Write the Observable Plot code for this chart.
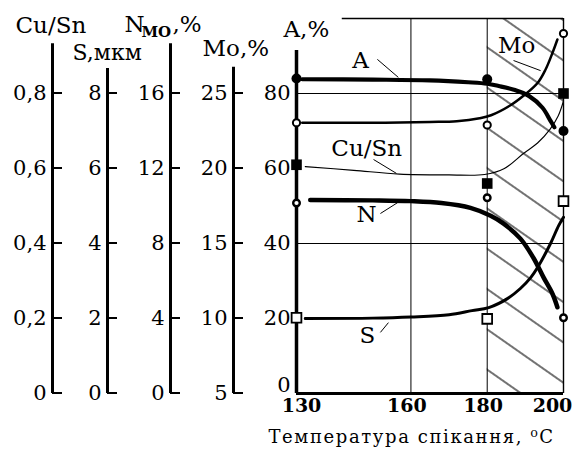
<!DOCTYPE html>
<html><head><meta charset="utf-8">
<script src="https://cdn.jsdelivr.net/npm/d3@7"></script>
<script src="https://cdn.jsdelivr.net/npm/@observablehq/plot@0.6"></script>
<style>body{margin:0;background:#fff}</style>
</head><body><div id="chart"></div>
<script>
// ---- data ----
const markTemps = [130, 180, 200];
const markA    = [84, 83.8, 70];          // A, %
const markMo   = [23.05, 22.9, 29.0];     // Mo, %
const markCuSn = [0.61, 0.56, 0.80];      // Cu/Sn
const markN    = [10.16, 10.44, 4.04];    // N_MO, %
const markS    = [2.02, 1.99, 5.13];      // S, мкм

const aTemps = [131.5, 150, 165, 175, 180, 183, 187, 191, 194.5, 196.6, 197.6];
const aVals  = [83.8, 83.7, 83.5, 83.0, 82.6, 82.0, 81.0, 79.3, 76.2, 72.7, 71.0];
const moTemps = [131.5, 150, 165, 172, 178, 181, 186, 189.5, 193.2, 195.3, 197.1, 198.4];
const moVals  = [23.05, 23.05, 23.1, 23.15, 23.35, 23.55, 24.2, 24.85, 25.7, 26.6, 27.7, 28.6];
const cuTemps = [132.3, 145, 157, 170, 179.3, 184.5, 189.5, 193.2, 196.5, 198.6, 200];
const cuVals  = [0.605, 0.595, 0.585, 0.583, 0.584, 0.6, 0.64, 0.668, 0.705, 0.74, 0.78];
const nTemps = [133.6, 150, 160, 168, 175.6, 180.9, 184.3, 188.7, 192.1, 194.8, 197.1, 198.4];
const nVals  = [10.32, 10.3, 10.26, 10.16, 9.9, 9.48, 9.06, 8.26, 7.24, 6.18, 5.32, 4.6];
const sTemps = [132.3, 150, 160, 170, 176, 180.4, 185.3, 188.7, 191.4, 193.2, 196.6, 198.7, 200];
const sVals  = [2.0, 2.01, 2.04, 2.1, 2.21, 2.29, 2.53, 2.8, 3.09, 3.36, 4.0, 4.47, 4.7];

// tick values for each axis
const xTicks = [130, 160, 180, 200];
const cuTicks = [0, 0.2, 0.4, 0.6, 0.8];
const sTicks = [0, 2, 4, 6, 8];
const nTicks = [0, 4, 8, 12, 16];
const moTicks = [5, 10, 15, 20, 25];
const aTicks = [0, 20, 40, 60, 80];
const gridA = [40, 80];
const gridT = [160, 180];
const hatchZone = [180, 200];

// conversions of each quantity onto the shared vertical scale (A, %)
const toA = {A: v => v, Mo: v => (v - 5) * 4, Cu: v => v * 100, N: v => v * 5, S: v => v * 10};
const fmtComma = v => v === 0 ? "0" : String(v).replace(".", ",");

const pts = (ts, vs, f) => ts.map((t, i) => ({t, v: f(vs[i])}));

const font = "DejaVu Serif";
const FX = 296, FY = 18; // frame top-left in px (layout)
const W = 572, ML = 296, MR = 9;
const ppu = (W - ML - MR) / 70;        // px per x unit
const at = px => 130 + px / ppu;       // px offset from the frame's left edge -> x units

function title(txt, px, base, size, weight = "normal") {
  return Plot.text([txt], {text: d => d, frameAnchor: "top-left", textAnchor: "start", lineAnchor: "bottom",
    dx: px - FX, dy: base - FY, fontSize: size, fontWeight: weight, fill: "black"});
}

const sideAxes = [
  {ticks: cuTicks, conv: toA.Cu, fmt: d => fmtComma(Math.round(d * 10) / 1000), dx: -244, top: 93.3},
  {ticks: sTicks, conv: toA.S, fmt: d => String(Math.round(d / 10)), dx: -189, top: 86.7},
  {ticks: nTicks, conv: toA.N, fmt: d => String(Math.round(d / 5)), dx: -126, top: 93.3},
  {ticks: moTicks, conv: toA.Mo, fmt: d => String(Math.round(d / 4 + 5)), dx: -63, top: 87}
];

function sideAxis({ticks, conv, fmt, dx, top}) {
  const ys = ticks.map(conv);
  return [
    Plot.ruleX([at(dx)], {y1: 0, y2: top, strokeWidth: 3}),
    Plot.axisY(ys, {anchor: "left", dx, tickSize: 0, tickPadding: 6,
      tickFormat: d => fmt(d), fontSize: 21, label: null})
  ];
}

const curveLabels = [
  {txt: "A", t: 146.8, v: 88.7, lt1: 151.2, lv1: 89.1, lt2: 156.7, lv2: 84.3},
  {txt: "Mo", t: 187.7, v: 92.8, lt1: 186.9, lv1: 88.8, lt2: 194, lv2: 86.1},
  {txt: "Cu/Sn", t: 148.4, v: 65.3, lt1: 150.2, lv1: 62.4, lt2: 156.2, lv2: 58.7},
  {txt: "N", t: 148.4, v: 47.7, lt1: 152, lv1: 48, lt2: 156.5, lv2: 50.9},
  {txt: "S", t: 148.6, v: 15.5, lt1: 152, lv1: 16.3, lt2: 154.1, lv2: 18.9}
];

const chart = Plot.plot({
  width: W, height: 454,
  marginLeft: ML, marginRight: MR, marginTop: 18, marginBottom: 61,
  style: {fontFamily: font, background: "white", color: "black"},
  x: {domain: [130, 200], axis: null},
  y: {domain: [0, 100], axis: null},
  marks: [
    Plot.rect([hatchZone], {x1: d => d[0], x2: d => d[1], y1: 0, y2: 100, fill: "url(#hatch)"}),
    Plot.ruleY(gridA, {x1: 130, x2: 200, strokeWidth: 1}),
    Plot.ruleX(gridT, {y1: 0, y2: 100, strokeWidth: 1}),
    Plot.ruleX([200], {y1: 0, y2: 100, strokeWidth: 1.4}),
    Plot.ruleY([100], {x1: 142, x2: 200, strokeWidth: 1.4}),
    Plot.ruleY([0], {x1: 130, x2: 200, strokeWidth: 3}),

    Plot.line(pts(cuTemps, cuVals, toA.Cu), {x: "t", y: "v", curve: "catmull-rom", strokeWidth: 1.1}),
    Plot.line(pts(moTemps, moVals, toA.Mo), {x: "t", y: "v", curve: "catmull-rom", strokeWidth: 2.5}),
    Plot.line(pts(aTemps, aVals, toA.A), {x: "t", y: "v", curve: "catmull-rom", strokeWidth: 4.2}),
    Plot.line(pts(nTemps, nVals, toA.N), {x: "t", y: "v", curve: "catmull-rom", strokeWidth: 4.5}),
    Plot.line(pts(sTemps, sVals, toA.S), {x: "t", y: "v", curve: "catmull-rom", strokeWidth: 3}),

    ...sideAxes.flatMap(sideAxis),
    Plot.ruleX([130], {y1: 0, y2: 91.5, strokeWidth: 3.5}),
    Plot.axisY(aTicks.slice(1), {anchor: "left", tickSize: 0, tickPadding: 6, fontSize: 21, label: null}),
    Plot.axisY(aTicks.slice(0, 1), {anchor: "left", tickSize: 0, tickPadding: 6, dy: -8, fontSize: 21, label: null}),
    Plot.axisX(xTicks.slice(0, 1), {anchor: "bottom", tickSize: 0, tickPadding: 5, dx: 5, fontSize: 19, fontWeight: "bold", label: null}),
    Plot.axisX(xTicks.slice(1, 3), {anchor: "bottom", tickSize: 0, tickPadding: 5, dx: -4, fontSize: 19, fontWeight: "bold", label: null}),
    Plot.axisX(xTicks.slice(3), {anchor: "bottom", tickSize: 0, tickPadding: 5, dx: -11, fontSize: 19, fontWeight: "bold", label: null}),

    Plot.dot(pts(markTemps, markA, toA.A), {x: "t", y: "v", r: 5, fill: "black"}),
    Plot.dot(pts(markTemps, markMo, toA.Mo), {x: "t", y: "v", r: 3.6, fill: "white", stroke: "black", strokeWidth: 2}),
    Plot.dot(pts(markTemps, markCuSn, toA.Cu), {x: "t", y: "v", symbol: "square", r: 6, fill: "black"}),
    Plot.dot(pts(markTemps, markN, toA.N), {x: "t", y: "v", r: 3.3, fill: "white", stroke: "black", strokeWidth: 2.4}),
    Plot.dot(pts(markTemps, markS, toA.S), {x: "t", y: "v", symbol: "square", r: 5.5, fill: "white", stroke: "black", strokeWidth: 1.8}),

    Plot.link(curveLabels, {x1: "lt1", y1: "lv1", x2: "lt2", y2: "lv2", strokeWidth: 1}),
    Plot.text(curveLabels, {x: "t", y: "v", text: "txt", fontSize: 23, fill: "black"}),

    title("Cu/Sn", 15, 32, 23),
    title("S,мкм", 72, 59, 22),
    title("N", 124, 31, 23),
    title("MO", 141, 36, 15, "bold"),
    title(",%", 172, 31, 23),
    title("Mo,%", 202, 55, 23),
    title("A,%", 283, 36, 23),
    Plot.text(["Температура спікання, ⁰C"], {text: d => d, frameAnchor: "bottom-left", textAnchor: "start",
      lineAnchor: "bottom", dx: 268 - FX, dy: 442 - 393, fontSize: 18, fill: "black"})
  ]
});

const svg = d3.select(chart);
const pat = svg.insert("defs", ":first-child").append("pattern")
  .attr("id", "hatch").attr("patternUnits", "userSpaceOnUse")
  .attr("width", 20).attr("height", 33)
  .attr("patternTransform", "translate(0,9) rotate(35)");
pat.append("line").attr("x1", -5).attr("x2", 25).attr("y1", 16).attr("y2", 16)
  .attr("stroke", "black").attr("stroke-width", 1.1);
svg.selectAll("text").filter(function () { return this.textContent.startsWith("Темп"); })
  .attr("letter-spacing", "1.6px");

// right-pointing ticks of the side axes, placed with the chart's own scales
const xS = chart.scale("x"), yS = chart.scale("y");
const gTicks = svg.append("g").attr("stroke", "black").attr("stroke-width", 2);
for (const ax of sideAxes) {
  const x0 = xS.apply(at(ax.dx));
  for (const t of ax.ticks) {
    const y = yS.apply(ax.conv(t));
    gTicks.append("line").attr("x1", x0).attr("x2", x0 + 10).attr("y1", y).attr("y2", y);
  }
}
document.getElementById("chart").appendChild(chart);
</script></body></html>
